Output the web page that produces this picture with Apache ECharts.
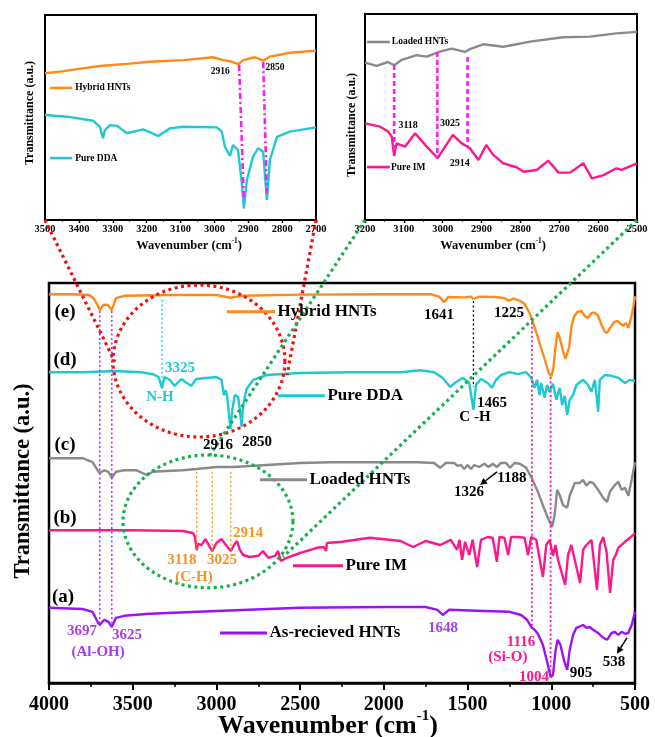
<!DOCTYPE html>
<html>
<head>
<meta charset="utf-8">
<script src="https://cdn.jsdelivr.net/npm/echarts@6/dist/echarts.min.js"></script>
<style>
  html, body { margin: 0; padding: 0; background: #fff; }
  #chart { width: 655px; height: 737px; }
</style>
</head>
<body>
<div id="chart"></div>
<script>
// ---------- FTIR spectra, [wavenumber (cm-1), transmittance (a.u., stacked)] ----------
const asReceivedHNTs = [[4000,18.8],[3800,18.5],[3740,17.8],[3710,15.3],[3697,14.5],[3670,15.8],[3645,15.3],[3625,14],[3600,16.3],[3550,16.8],[3400,17.3],[3000,18],[2500,18.8],[2000,19],[1750,19],[1680,18.3],[1648,17],[1610,18.3],[1400,18],[1250,17.8],[1180,17],[1145,15.8],[1116,13.8],[1100,13.3],[1080,12.3],[1050,9.5],[1020,4.5],[1004,1.5],[990,2],[975,8],[962,10.8],[945,9.5],[925,5.8],[905,3.3],[890,8.3],[870,12],[850,13.8],[810,14.5],[790,13.8],[770,14],[750,13.3],[720,12.5],[690,11.3],[667,10.8],[640,12.5],[620,12.8],[600,12],[580,12.8],[560,12.3],[540,12.5],[520,14.5],[500,17.8]];

const pureIM = [[4000,38.2],[3500,38.2],[3200,38],[3140,37.5],[3128,36.5],[3118,33.2],[3110,34.8],[3090,34.5],[3065,36],[3040,34],[3025,33],[3000,35],[2970,36],[2940,34.3],[2914,33],[2895,34.5],[2877,35.5],[2860,33.3],[2841,32],[2800,31.5],[2750,31.8],[2722,33],[2690,31.3],[2650,31.8],[2632,33],[2615,30.5],[2580,31.3],[2500,32.5],[2400,33.8],[2360,34],[2350,34],[2345,33],[2340,35],[2250,35.3],[2083,36.3],[1900,35.5],[1826,34],[1750,35.5],[1664,34.5],[1600,35.8],[1563,33.3],[1548,35.8],[1533,30.8],[1515,35.3],[1490,32],[1470,35.8],[1443,29],[1420,35.8],[1380,36.5],[1350,36.3],[1325,30.3],[1310,36.5],[1280,36.3],[1258,32],[1240,36.5],[1200,36.5],[1160,36.3],[1139,32],[1120,36.5],[1090,35.8],[1050,26.5],[1030,34.5],[1010,35.8],[990,31.8],[975,34.5],[960,30.8],[917,24.5],[900,32],[880,34.5],[860,30.8],[828,25],[810,33.3],[790,34.5],[760,35.8],[727,23.3],[710,34.5],[690,36.5],[670,32.8],[649,22.5],[630,30.8],[615,32],[600,33.8],[560,35.3],[530,36.3],[500,37.5]];

const loadedHNTs = [[4000,56.2],[3800,56.2],[3740,55.2],[3710,53.2],[3697,52.5],[3670,53.2],[3645,52.8],[3625,51.3],[3600,52.8],[3550,53.2],[3480,53.2],[3415,52],[3380,52.8],[3300,53],[3200,53.2],[3118,53.5],[3000,54],[2900,54],[2700,54.5],[2500,55],[2320,55.2],[2000,55.2],[1800,55.2],[1700,55],[1664,53.8],[1630,55],[1580,55],[1560,54.3],[1540,54.5],[1520,53.5],[1500,54.5],[1480,53.5],[1460,54.5],[1430,54],[1400,54.8],[1375,54],[1350,54.8],[1326,54],[1300,55],[1270,55],[1246,53.8],[1220,55],[1188,54.8],[1150,53.8],[1120,51.5],[1080,47.8],[1040,43.3],[1010,40.3],[995,39],[980,42],[965,48.3],[950,47],[930,44.5],[905,43.8],[890,46.8],[860,50],[830,50],[810,50.8],[790,49.3],[770,50.3],[750,50],[720,48.3],[690,46.3],[667,45.3],[650,47.8],[620,49.5],[600,50.3],[580,48.3],[560,48.8],[540,46.8],[520,50.8],[500,55.2]];

const pureDDA = [[4000,77.7],[3800,77.7],[3600,78],[3450,77.7],[3380,77.2],[3345,76.5],[3325,73.7],[3310,76.5],[3280,75.8],[3250,74.3],[3210,76],[3170,74.8],[3150,74.3],[3120,76],[3000,76.5],[2970,75.8],[2955,72],[2945,73.2],[2935,71.3],[2916,63.5],[2905,68.3],[2890,72],[2870,71.5],[2860,68.3],[2850,64],[2840,69.5],[2820,73.5],[2780,75.8],[2700,77],[2500,77.5],[2200,77.7],[1900,77.7],[1780,78.2],[1700,77.7],[1650,76.3],[1604,74],[1570,75.2],[1527,76.3],[1490,75],[1465,68.3],[1450,74.5],[1420,76],[1380,75],[1354,73.8],[1330,75.8],[1300,77],[1250,77.7],[1200,77.2],[1150,77.7],[1120,76.3],[1100,73.8],[1085,75.8],[1070,72],[1060,75],[1040,71.3],[1025,74.5],[1010,72.8],[990,74.8],[970,70.8],[950,73.8],[935,69.5],[920,71.8],[905,67],[890,70.8],[870,72],[850,74.5],[810,75.8],[780,74.5],[760,72.8],[740,75.8],[730,72],[720,67.8],[710,75.8],[680,77],[640,76.8],[600,76.3],[560,75],[530,75.8],[500,75.5]];

const hybridHNTs = [[4000,97.2],[3850,97.2],[3760,97],[3730,96],[3710,94.5],[3697,93.2],[3675,94.5],[3650,94.6],[3625,93.2],[3600,96.2],[3550,96.8],[3300,97],[3000,97],[2916,96.3],[2850,96.8],[2500,97.1],[2000,97.2],[1720,97.2],[1670,96.6],[1641,95.2],[1615,96.5],[1520,96.4],[1480,96.6],[1465,96],[1430,96.6],[1330,96.5],[1280,96.2],[1255,95.6],[1225,96.1],[1190,95.6],[1160,94.8],[1130,92.5],[1100,89],[1070,85],[1040,81],[1015,77.5],[1000,76.7],[988,78.5],[975,84],[962,87.7],[948,86],[930,83],[915,81],[905,80.5],[893,84],[880,89],[865,91.5],[845,92.7],[820,93],[800,91.7],[780,91.3],[760,92.5],[740,92.6],[720,91.8],[700,89.5],[680,87.8],[667,87.5],[650,88.7],[625,90.2],[605,90.5],[585,89.8],[570,89.3],[555,90],[540,88.8],[525,91],[510,94],[500,96.7]];

// Expanded C-H stretching region: Hybrid HNTs vs pure DDA
const zoomHybrid = [[3500,71.6],[3450,72.5],[3400,73.7],[3338,75.1],[3250,76.3],[3190,77.2],[3092,78],[3004,79.4],[2974,78],[2950,77.3],[2929,76],[2915,78],[2880,79.4],[2856,77.7],[2836,79.7],[2777,81.6],[2700,82.6]];
const zoomDDA = [[3500,51.2],[3435,50.4],[3358,48.4],[3338,45.5],[3329,39.9],[3323,43.9],[3308,46.3],[3287,45.9],[3258,42.3],[3210,44.2],[3166,41],[3131,44.7],[3092,45.5],[2993,45.2],[2978,43.1],[2969,35.8],[2954,31.2],[2945,36.6],[2930,34.1],[2918,16.2],[2913,5.7],[2904,19.5],[2886,30.9],[2871,35],[2856,33.3],[2845,9.8],[2836,29.3],[2815,40.6],[2777,43.1],[2700,45.2]];

// Expanded region: Loaded HNTs vs pure IM
const zoomLoaded = [[3200,76.4],[3170,74.8],[3141,76.7],[3125,75.1],[3106,77.7],[3067,80],[3041,79.3],[3007,81.7],[2977,83.2],[2943,81.6],[2930,82.9],[2896,85.3],[2844,84.1],[2775,86.6],[2690,88.7],[2621,89],[2553,90.6],[2500,91.3]];
const zoomIM = [[3200,46.9],[3161,45.3],[3140,42.9],[3131,40.4],[3125,31.1],[3119,37.2],[3097,35.6],[3071,42.1],[3041,35.6],[3013,30],[2974,41.3],[2951,37.2],[2930,34.8],[2908,29.1],[2888,36.4],[2870,31.6],[2844,27.5],[2810,25.6],[2792,23.4],[2758,24.3],[2728,28.8],[2702,23],[2672,23],[2638,27.5],[2616,20.2],[2586,21.8],[2553,25.1],[2540,24.3],[2500,27.5]];

// Axis tick settings
const mainTicks = { min: 500, max: 4000, step: 500 };
const leftZoomTicks = { min: 2700, max: 3500, step: 100 };
const rightZoomTicks = { min: 2500, max: 3200, step: 100 };

// ---------- styling ----------
const FONT = '"Liberation Serif", "Times New Roman", serif';
const C = {
  orange: '#ff8a17', cyan: '#1fc9d3', grey: '#8a8a8a', pink: '#ff168c', purple: '#9a12f5',
  purpleText: '#a43cf0', pinkText: '#ff1493', orangeText: '#f7931e', cyanText: '#22c8d8',
  red: '#f01010', green: '#14b04a', magenta: '#ff1cf4'
};
const bold = (s) => `bold ${s}px ${FONT}`;

function xAx(grid, t, fs, tickLen, lw, margin) {
  return {
    gridIndex: grid, type: 'value', inverse: true, min: t.min, max: t.max, interval: t.step,
    axisLine: { show: true, onZero: false, lineStyle: { color: '#000', width: lw } },
    axisTick: { show: true, inside: false, length: tickLen, lineStyle: { color: '#000', width: lw * 0.8 } },
    minorTick: { show: true, splitNumber: 2, length: tickLen * 0.55, lineStyle: { color: '#000', width: lw * 0.7 } },
    splitLine: { show: false },
    axisLabel: { color: '#000', fontFamily: FONT, fontWeight: 'bold', fontSize: fs, margin,
                 formatter: (v) => String(v) }
  };
}
function yAx(grid) {
  return { gridIndex: grid, type: 'value', min: 0, max: 100, show: false };
}
function spectrum(grid, data, color, width) {
  return {
    type: 'line', xAxisIndex: grid, yAxisIndex: grid, data, showSymbol: false, symbol: 'none',
    lineStyle: { color, width }, itemStyle: { color }, silent: true, animation: false, z: 3
  };
}

const chart = echarts.init(document.getElementById('chart'), null, { renderer: 'canvas' });
chart.setOption({
  backgroundColor: '#fff',
  animation: false,
  grid: [
    { left: 49, top: 283, width: 586, height: 400, show: true, borderColor: '#000', borderWidth: 2.5, backgroundColor: 'transparent' },
    { left: 45, top: 15, width: 271, height: 205, show: true, borderColor: '#000', borderWidth: 2, backgroundColor: 'transparent' },
    { left: 365, top: 14, width: 272, height: 206, show: true, borderColor: '#000', borderWidth: 2, backgroundColor: 'transparent' }
  ],
  xAxis: [
    xAx(0, mainTicks, 20, 7, 2.5, 12),
    xAx(1, leftZoomTicks, 10.5, 3, 1.8, 4),
    xAx(2, rightZoomTicks, 10.5, 3, 1.8, 4)
  ],
  yAxis: [yAx(0), yAx(1), yAx(2)],
  series: [
    spectrum(0, asReceivedHNTs, C.purple, 2.4),
    spectrum(0, pureIM, C.pink, 2.4),
    spectrum(0, loadedHNTs, C.grey, 2.4),
    spectrum(0, pureDDA, C.cyan, 2.4),
    spectrum(0, hybridHNTs, C.orange, 2.4),
    spectrum(1, zoomHybrid, C.orange, 2.4),
    spectrum(1, zoomDDA, C.cyan, 2.4),
    spectrum(2, zoomLoaded, C.grey, 2.4),
    spectrum(2, zoomIM, C.pink, 2.4)
  ]
});

// ---------- annotations anchored in data coordinates ----------
const px = (g, wn, v) => chart.convertToPixel({ xAxisIndex: g, yAxisIndex: g }, [wn, v]);
const G = [];

function label(g, text, wn, v, color, size, align) {
  const p = px(g, wn, v);
  G.push({ type: 'text', x: p[0], y: p[1], z: 120,
    style: { text, fill: color, font: bold(size), align: align || 'center', verticalAlign: 'middle',
             textAlign: align || 'center', textVerticalAlign: 'middle' } });
}
function seg(g, a, b, color, width, dash) {
  const p = px(g, a[0], a[1]), q = px(g, b[0], b[1]);
  G.push({ type: 'line', z: 110, shape: { x1: p[0], y1: p[1], x2: q[0], y2: q[1] },
    style: { stroke: color, lineWidth: width, lineDash: dash || null, lineCap: 'butt' } });
}
function segPix(p, q, color, width, dash) {
  G.push({ type: 'line', z: 110, shape: { x1: p[0], y1: p[1], x2: q[0], y2: q[1] },
    style: { stroke: color, lineWidth: width, lineDash: dash || null } });
}
function arrow(g, a, b) {
  const p = px(g, a[0], a[1]), q = px(g, b[0], b[1]);
  const ang = Math.atan2(q[1] - p[1], q[0] - p[0]);
  const L = 7, W = 3.5;
  const base = [q[0] - L * Math.cos(ang), q[1] - L * Math.sin(ang)];
  G.push({ type: 'line', z: 110, shape: { x1: p[0], y1: p[1], x2: base[0], y2: base[1] }, style: { stroke: '#000', lineWidth: 1.5 } });
  G.push({ type: 'polygon', z: 110, shape: { points: [q,
    [base[0] + W * Math.sin(ang), base[1] - W * Math.cos(ang)],
    [base[0] - W * Math.sin(ang), base[1] + W * Math.cos(ang)]] }, style: { fill: '#000' } });
}
// dotted ellipse spanning a wavenumber / transmittance box of the main plot
function ellipse(wnA, wnB, vA, vB, color) {
  const a = px(0, wnA, vA), b = px(0, wnB, vB);
  const cx = (a[0] + b[0]) / 2, cy = (a[1] + b[1]) / 2;
  const rx = Math.abs(b[0] - a[0]) / 2, ry = Math.abs(b[1] - a[1]) / 2;
  const pts = [];
  for (let i = 0; i < 180; i++) {
    const t = i / 180 * Math.PI * 2;
    pts.push([cx + rx * Math.cos(t), cy + ry * Math.sin(t)]);
  }
  G.push({ type: 'polygon', z: 105, shape: { points: pts },
    style: { fill: 'none', stroke: color, lineWidth: 3.2, lineDash: [3, 3.5] } });
}

const DOT = [2, 2.5];

// Main plot: peak guide lines
seg(0, [3697, 93], [3697, 14.5], C.purpleText, 1.6, DOT);
seg(0, [3625, 93], [3625, 14], C.purpleText, 1.6, DOT);
seg(0, [3325, 95.8], [3325, 74.5], C.cyanText, 1.3, DOT);
seg(0, [3118, 52.8], [3118, 33.5], C.orangeText, 1.3, DOT);
seg(0, [3025, 52.8], [3025, 33.2], C.orangeText, 1.3, DOT);
seg(0, [2914, 52.8], [2914, 33.3], C.orangeText, 1.3, DOT);
seg(0, [1465, 95.5], [1465, 74], '#000', 1.3, DOT);
seg(0, [1116, 91.3], [1116, 14], C.pinkText, 1.8, DOT);
seg(0, [1004, 76.5], [1004, 2.5], C.pinkText, 1.8, DOT);

// Main plot: curve tags and legend entries
label(0, '(e)', 3904, 92.8, '#000', 19);
label(0, '(d)', 3904, 80.8, '#000', 19);
label(0, '(c)', 3904, 59.5, '#000', 19);
label(0, '(b)', 3904, 41.3, '#000', 19);
label(0, '(a)', 3916, 21.5, '#000', 19);

const legendMain = [
  ['Hybrid HNTs', 2937, 2650, 92.8, C.orange],
  ['Pure DDA', 2632, 2352, 71.8, C.cyan],
  ['Loaded HNTs', 2740, 2459, 50.8, C.grey],
  ['Pure IM', 2543, 2244, 29.3, C.pink],
  ['As-recieved HNTs', 2979, 2698, 12.5, C.purple]
];
legendMain.forEach(([t, a, b, v, c]) => {
  seg(0, [a, v], [b, v], c, 3);
  label(0, t, b - 15, v, '#000', 17, 'left');
});

// Main plot: band assignments
label(0, '3325', 3218, 78.8, C.cyanText, 15);
label(0, 'N-H', 3337, 71.5, C.cyanText, 15);
label(0, '2916', 2991, 59.5, '#000', 15);
label(0, '2850', 2758, 60.3, '#000', 15);
label(0, '1641', 1671, 92, '#000', 15);
label(0, '1225', 1253, 92.5, '#000', 15);
label(0, '1465', 1354, 70, '#000', 15);
label(0, 'C -H', 1456, 66.5, '#000', 15);
label(0, '1326', 1491, 47.8, '#000', 15);
label(0, '1188', 1235, 51.3, '#000', 15);
label(0, '1648', 1647, 13.8, C.purpleText, 15);
label(0, '1116', 1181, 10.3, C.pinkText, 15);
label(0, '(Si-O)', 1259, 6.5, C.pinkText, 15);
label(0, '1004', 1103, 1.5, C.pinkText, 15);
label(0, '905', 822, 2.5, '#000', 15);
label(0, '538', 625, 5.3, '#000', 15);
label(0, '3697', 3803, 13, C.purpleText, 15);
label(0, '3625', 3534, 12, C.purpleText, 15);
label(0, '(Al-OH)', 3707, 7.8, C.purpleText, 15);
label(0, '3118', 3206, 30.8, C.orangeText, 15);
label(0, '(C-H)', 3134, 26.5, C.orangeText, 15);
label(0, '3025', 2967, 30.8, C.orangeText, 15);
label(0, '2914', 2811, 37.5, C.orangeText, 15);
arrow(0, [1324, 52.8], [1426, 49.5]);
arrow(0, [548, 11.3], [608, 7.3]);

// Highlight ellipses and their links to the expanded views
ellipse(3618, 2591, 99.5, 61.5, C.red);
ellipse(3558, 2543, 57, 23.8, C.green);
segPix(px(1, 3500, 0), px(0, 3606, 80.3), C.red, 3.2, [3, 3.5]);
segPix(px(1, 2700, 0), px(0, 2578, 77), C.red, 3.2, [3, 3.5]);
segPix(px(2, 3200, 0), px(0, 3038, 57), C.green, 3.2, [3, 3.5]);
segPix(px(2, 2500, 0), px(0, 2602, 31.5), C.green, 3.2, [3, 3.5]);

// Left expanded view: Hybrid HNTs / Pure DDA
seg(1, [3485, 64.4], [3420, 64.4], C.orange, 2.6);
label(1, 'Hybrid HNTs', 3411, 64.4, '#000', 9.5, 'left');
seg(1, [3485, 30.2], [3420, 30.2], C.cyan, 2.6);
label(1, 'Pure DDA', 3411, 30.2, '#000', 9.5, 'left');
label(1, '2916', 2983, 72.2, '#000', 9.5);
label(1, '2850', 2821, 74.6, '#000', 9.5);
seg(1, [2927, 75.6], [2913, 9.8], C.magenta, 2.6, [6, 3, 2, 3]);
seg(1, [2856, 77], [2845, 13], C.magenta, 2.6, [6, 3, 2, 3]);

// Right expanded view: Loaded HNTs / Pure IM
seg(2, [3195, 86.4], [3136, 86.4], C.grey, 2.6);
label(2, 'Loaded HNTs', 3131, 86.4, '#000', 9.5, 'left');
seg(2, [3195, 25.7], [3136, 25.7], C.pink, 2.6);
label(2, 'Pure IM', 3133, 25.7, '#000', 9.5, 'left');
label(2, '3118', 3089, 46.1, '#000', 10);
label(2, '3025', 2981, 47, '#000', 10);
label(2, '2914', 2956, 27.7, '#000', 10);
seg(2, [3125, 75.2], [3125, 32.5], C.magenta, 2.6, [5, 3]);
seg(2, [3014, 81.6], [3014, 30.6], C.magenta, 2.6, [5, 3]);
seg(2, [2936, 79.1], [2936, 35.4], C.magenta, 2.6, [5, 3]);

// Axis titles
function xTitle(cx, cy, size) {
  G.push({ type: 'text', x: cx, y: cy, z: 120, style: {
    text: '{a|Wavenumber (cm}{s|-1}{a|)}', align: 'center', verticalAlign: 'middle',
    textAlign: 'center', textVerticalAlign: 'middle',
    rich: {
      a: { font: bold(size), fill: '#000', lineHeight: size * 1.15, verticalAlign: 'bottom' },
      s: { font: bold(size * 0.58), fill: '#000', lineHeight: size * 0.6, verticalAlign: 'top' }
    } } });
}
function yTitle(cx, cy, size) {
  G.push({ type: 'text', x: cx, y: cy, rotation: Math.PI / 2, z: 120, style: {
    text: 'Transmittance (a.u.)', font: bold(size), fill: '#000', align: 'center', verticalAlign: 'middle',
    textAlign: 'center', textVerticalAlign: 'middle' } });
}
xTitle(328, 724, 26);
yTitle(23, 481, 22.5);
xTitle(189, 245, 12.5);
yTitle(30, 113, 12);
xTitle(493, 245, 12.5);
yTitle(352, 125, 12);

chart.setOption({ graphic: { elements: G } });
</script>
</body>
</html>
